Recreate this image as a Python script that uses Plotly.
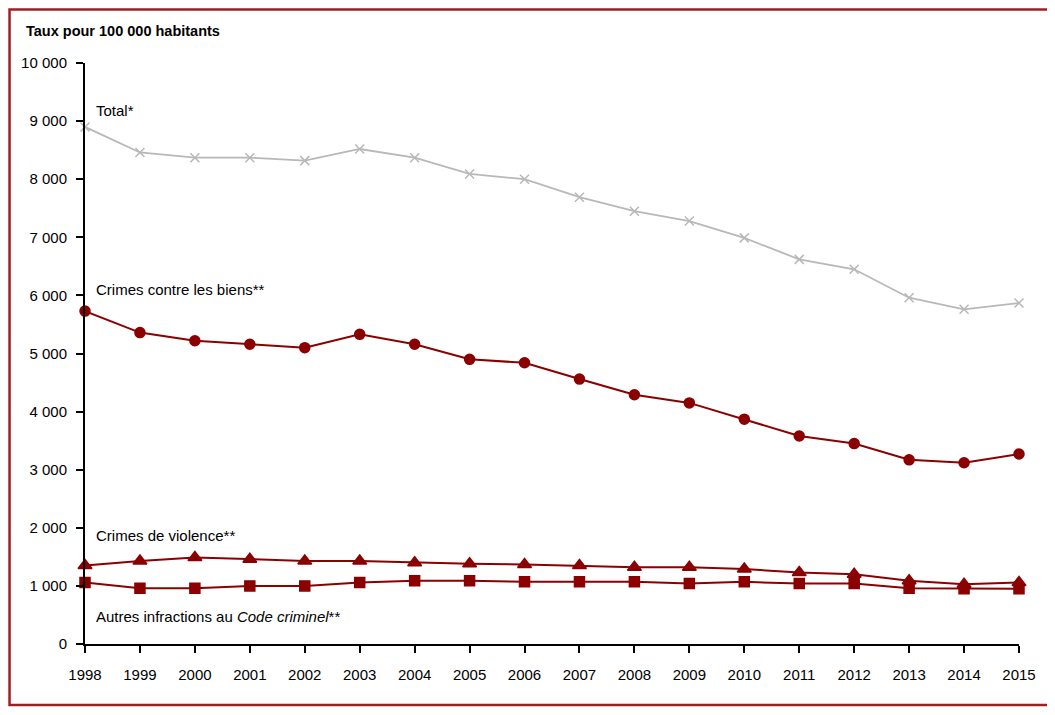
import plotly.graph_objects as go

# Données (taux pour 100 000 habitants)
annees = list(range(1998, 2016))
total = [8900, 8460, 8370, 8370, 8320, 8520, 8370, 8090, 8000, 7690,
         7450, 7280, 6990, 6620, 6450, 5960, 5760, 5870]
biens = [5730, 5360, 5220, 5160, 5100, 5330, 5160, 4900, 4840, 4560,
         4290, 4150, 3870, 3580, 3450, 3170, 3120, 3270]
violence = [1350, 1430, 1490, 1460, 1430, 1430, 1400, 1380, 1370, 1350,
            1320, 1320, 1290, 1230, 1200, 1090, 1030, 1060]
autres = [1060, 960, 960, 1000, 1000, 1060, 1090, 1090, 1070, 1070,
          1070, 1040, 1070, 1040, 1040, 960, 950, 950]

ROUGE = "#8B0000"
GRIS = "#B8B8B8"
POLICE = "Liberation Sans, Arial"


def trace(y, couleur, symbole, taille, nom, epaisseur=2):
    return go.Scatter(
        x=annees, y=y, name=nom, mode="lines+markers",
        line=dict(color=couleur, width=epaisseur),
        marker=dict(symbol=symbole, size=taille, color=couleur,
                    line=dict(color=couleur, width=1.5)),
        cliponaxis=False, showlegend=False,
    )


fig = go.Figure([
    trace(total, GRIS, "x-thin", 9, "Total*", 1.8),
    trace(biens, ROUGE, "circle", 10, "Crimes contre les biens**"),
    trace(violence, ROUGE, "triangle-up", 12, "Crimes de violence**"),
    trace(autres, ROUGE, "square", 10, "Autres infractions au Code criminel**"),
])

# étiquettes des séries, placées à gauche
etiquettes = [
    ("Total*", 9190),
    ("Crimes contre les biens**", 6100),
    ("Crimes de violence**", 1860),
    ("Autres infractions au <i>Code criminel</i>**", 470),
]
for texte, yv in etiquettes:
    fig.add_annotation(x=1998.17, y=yv, text=texte, showarrow=False,
                       xanchor="left", yanchor="middle",
                       font=dict(size=15, color="#000000", family=POLICE))

fig.add_annotation(x=-0.065, y=1.055, xref="paper", yref="paper",
                   text="<b>Taux pour 100 000 habitants</b>", showarrow=False,
                   xanchor="left", yanchor="middle",
                   font=dict(size=14.5, color="#000000", family=POLICE))

# cadre rouge autour de la figure
fig.add_shape(type="rect", xref="paper", yref="paper",
              x0=-0.0808, x1=1.0321, y0=-0.105, y1=1.0921,
              line=dict(color="#A01E22", width=2.5))

fig.update_layout(
    width=1045, height=699,
    margin=dict(l=77, r=34, t=55, b=63),
    paper_bgcolor="white", plot_bgcolor="white",
    separators=", ",
    font=dict(family=POLICE, size=15, color="#000000"),
    xaxis=dict(range=[1998, 2015], tickmode="linear", dtick=1,
               showgrid=False, zeroline=False,
               showline=True, linecolor="#000000", linewidth=2,
               ticks="outside", ticklen=7, tickcolor="#000000", tickwidth=1.5,
               ticklabelstandoff=9, tickfont=dict(size=15)),
    yaxis=dict(range=[0, 10000], dtick=1000, tickformat=",d",
               showgrid=False, zeroline=False,
               showline=True, linecolor="#000000", linewidth=2,
               ticks="outside", ticklen=7, tickcolor="#000000", tickwidth=1.5,
               ticklabelstandoff=6, tickfont=dict(size=15)),
)

fig.write_html("out.html")
